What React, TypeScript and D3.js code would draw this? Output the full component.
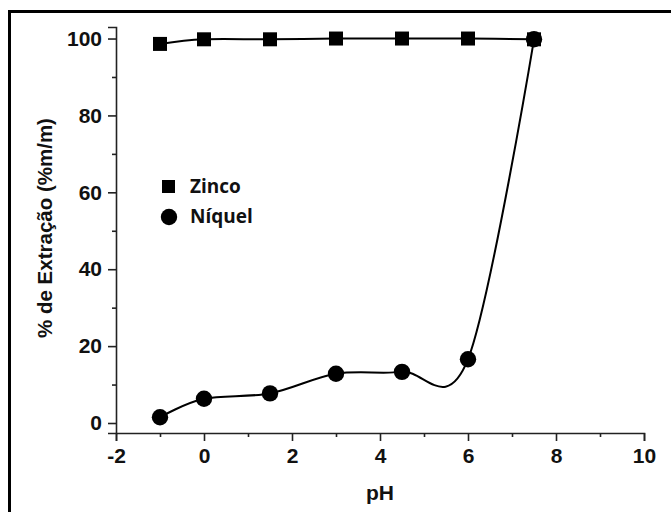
import { useRef, useEffect } from 'react';
import * as d3 from 'd3';

const phValues = [-1, 0, 1.5, 3, 4.5, 6, 7.5];
const zincoValues = [98.6, 99.8, 99.8, 100, 100, 100, 99.8];
const niquelValues = [1.5, 6.3, 7.7, 12.8, 13.3, 16.6, 99.8];
const xTicks = [-2, 0, 2, 4, 6, 8, 10];
const yTicks = [0, 20, 40, 60, 80, 100];

const W = 671;
const H = 512;

export default function App() {
  const svgRef = useRef<SVGSVGElement>(null);

  useEffect(() => {
    if (!svgRef.current) return;
    const svg = d3.select(svgRef.current);
    svg.selectAll('*').remove();

    const x = d3.scaleLinear().domain([-2, 10]).range([116, 644]);
    const y = d3.scaleLinear().domain([-2.6, 103]).range([433, 27]);
    const tickFont = '"Liberation Sans", Arial, sans-serif';

    // outer frame
    svg.append('rect')
      .attr('x', 9.5).attr('y', 11.5)
      .attr('width', 700).attr('height', 600)
      .attr('fill', 'none').attr('stroke', '#000').attr('stroke-width', 3);

    // x axis
    const xAxis = svg.append('g').attr('transform', `translate(0,${y(-2.6)})`);
    xAxis.call(d3.axisBottom(x).tickValues(d3.range(-1, 10, 2)).tickSize(4).tickFormat(() => ''))
      .call((el) => el.select('.domain').remove())
      .call((el) => el.selectAll('.tick line').attr('stroke', '#222').attr('stroke-width', 1.6));
    xAxis.append('g')
      .call(d3.axisBottom(x).tickValues(xTicks).tickSize(8).tickPadding(7).tickFormat((d) => String(d)))
      .call((el) => el.select('.domain').attr('stroke', '#222').attr('stroke-width', 1.6))
      .call((el) => el.selectAll('.tick line').attr('stroke', '#222').attr('stroke-width', 1.6))
      .call((el) => el.selectAll('.tick text')
        .attr('fill', '#111').attr('font-size', '21px').attr('font-weight', 'bold').attr('font-family', tickFont));

    // y axis
    const yAxis = svg.append('g').attr('transform', `translate(${x(-2)},0)`);
    yAxis.call(d3.axisLeft(y).tickValues(d3.range(10, 100, 20)).tickSize(4).tickFormat(() => ''))
      .call((el) => el.select('.domain').remove())
      .call((el) => el.selectAll('.tick line').attr('stroke', '#222').attr('stroke-width', 1.6));
    yAxis.append('g')
      .call(d3.axisLeft(y).tickValues(yTicks).tickSize(8).tickPadding(6).tickFormat((d) => String(d)))
      .call((el) => el.select('.domain').attr('stroke', '#222').attr('stroke-width', 1.6))
      .call((el) => el.selectAll('.tick line').attr('stroke', '#222').attr('stroke-width', 1.6))
      .call((el) => el.selectAll('.tick text')
        .attr('fill', '#111').attr('font-size', '21px').attr('font-weight', 'bold').attr('font-family', tickFont));

    // axis titles
    svg.append('text')
      .attr('x', (x(-2) + x(10)) / 2).attr('y', 500)
      .attr('text-anchor', 'middle')
      .attr('font-size', '21px').attr('font-weight', 'bold').attr('font-family', tickFont).attr('fill', '#111')
      .text('pH');
    svg.append('text')
      .attr('transform', `translate(52,${228}) rotate(-90)`)
      .attr('text-anchor', 'middle')
      .attr('font-size', '20.5px').attr('font-weight', 'bold').attr('font-family', tickFont).attr('fill', '#111')
      .text('% de Extração (%m/m)');

    const zinco = phValues.map((p, i) => [p, zincoValues[i]] as [number, number]);
    const niquel = phValues.map((p, i) => [p, niquelValues[i]] as [number, number]);
    const spline = d3.curveCardinal.tension(0);

    // Zinco
    svg.append('path')
      .datum(zinco)
      .attr('fill', 'none').attr('stroke', '#000').attr('stroke-width', 2)
      .attr('d', d3.line().curve(spline).x((d) => x(d[0])).y((d) => y(d[1])));
    svg.selectAll('rect.zn')
      .data(zinco)
      .join('rect')
      .attr('class', 'zn')
      .attr('x', (d) => x(d[0]) - 7).attr('y', (d) => y(d[1]) - 7)
      .attr('width', 14).attr('height', 14)
      .attr('fill', '#000');

    // Níquel
    svg.append('path')
      .datum(niquel)
      .attr('fill', 'none').attr('stroke', '#000').attr('stroke-width', 2)
      .attr('d', d3.line().curve(spline).x((d) => x(d[0])).y((d) => y(d[1])));
    svg.selectAll('circle.ni')
      .data(niquel)
      .join('circle')
      .attr('class', 'ni')
      .attr('cx', (d) => x(d[0])).attr('cy', (d) => y(d[1]))
      .attr('r', 8.2)
      .attr('fill', '#000');

    // Legend
    const legendFont = '"Open Sans", "Noto Sans", sans-serif';
    const legend = svg.append('g');
    legend.append('rect').attr('x', 162).attr('y', 180).attr('width', 13).attr('height', 13).attr('fill', '#000');
    legend.append('text').attr('x', 190).attr('y', 193)
      .attr('font-size', '19px').attr('font-weight', 'bold').attr('font-family', legendFont).attr('fill', '#111')
      .text('Zinco');
    legend.append('circle').attr('cx', 169).attr('cy', 217).attr('r', 8.2).attr('fill', '#000');
    legend.append('text').attr('x', 190).attr('y', 223)
      .attr('font-size', '19px').attr('font-weight', 'bold').attr('font-family', legendFont).attr('fill', '#111')
      .text('Níquel');
  }, []);

  return (
    <svg
      ref={svgRef}
      width={W}
      height={H}
      viewBox={`0 0 ${W} ${H}`}
      style={{ position: 'absolute', left: 0, top: 0, background: '#fff' }}
    />
  );
}
